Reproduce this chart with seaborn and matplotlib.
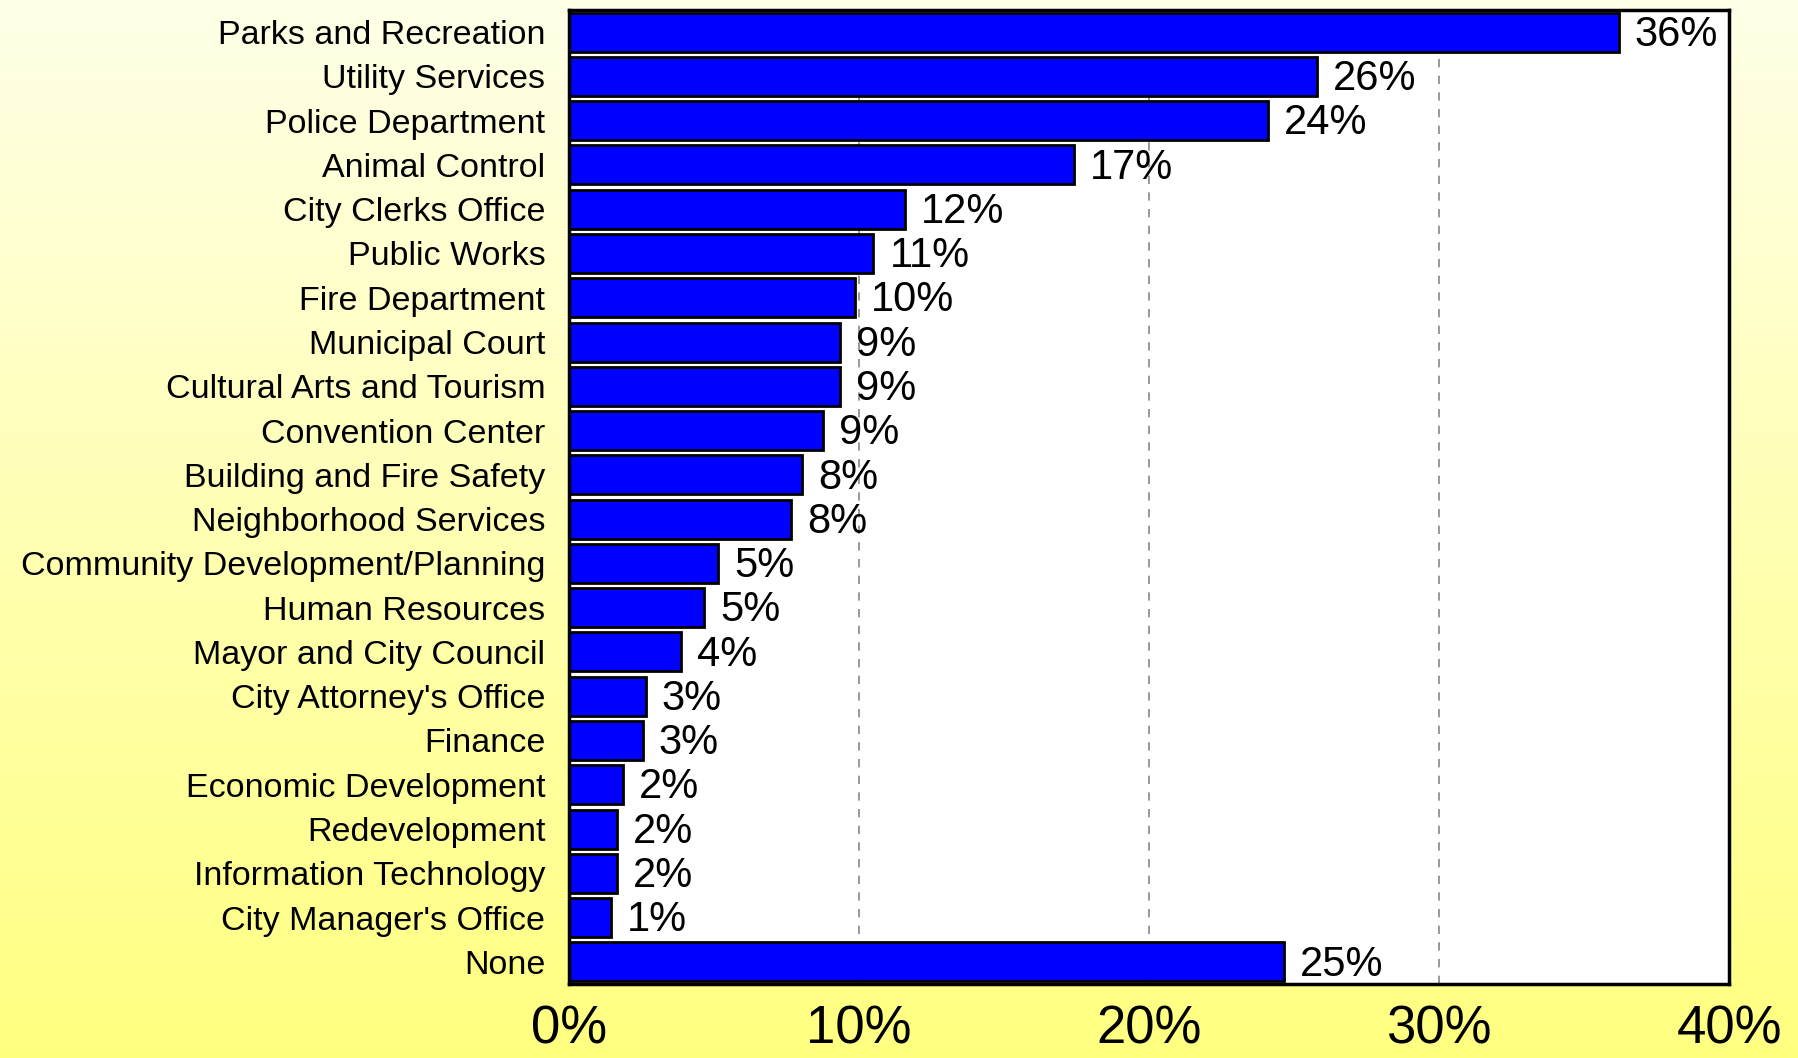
import numpy as np
import pandas as pd
import matplotlib
matplotlib.use("Agg")
import matplotlib.pyplot as plt
import seaborn as sns
from matplotlib.colors import LinearSegmentedColormap

departments = [
    "Parks and Recreation", "Utility Services", "Police Department", "Animal Control",
    "City Clerks Office", "Public Works", "Fire Department", "Municipal Court",
    "Cultural Arts and Tourism", "Convention Center", "Building and Fire Safety",
    "Neighborhood Services", "Community Development/Planning", "Human Resources",
    "Mayor and City Council", "City Attorney's Office", "Finance", "Economic Development",
    "Redevelopment", "Information Technology", "City Manager's Office", "None",
]
percent = [36.2, 25.8, 24.1, 17.4, 11.6, 10.5, 9.85, 9.35, 9.35, 8.75, 8.05,
           7.65, 5.15, 4.65, 3.85, 2.65, 2.55, 1.85, 1.65, 1.65, 1.45, 24.65]
value_labels = ["36%", "26%", "24%", "17%", "12%", "11%", "10%", "9%", "9%", "9%", "8%",
                "8%", "5%", "5%", "4%", "3%", "3%", "2%", "2%", "2%", "1%", "25%"]
x_ticks = [0, 10, 20, 30, 40]
x_tick_labels = ["0%", "10%", "20%", "30%", "40%"]

df = pd.DataFrame({"Department": departments, "Percent": percent})

sns.set_style("white")
plt.rcParams["font.family"] = ["Liberation Sans", "DejaVu Sans"]

fig = plt.figure(figsize=(17.99, 10.58), dpi=100)

# yellow gradient background
bg = fig.add_axes([0, 0, 1, 1], zorder=-10)
grad = np.linspace(0, 1, 256).reshape(-1, 1)
cmap = LinearSegmentedColormap.from_list("bg", ["#FFFFE8", "#FFFF80"])
bg.imshow(grad, aspect="auto", cmap=cmap, extent=[0, 1, 0, 1], origin="upper")
bg.axis("off")

ax = fig.add_axes([569 / 1799, 1 - 984 / 1058, (1729 - 569) / 1799, (984 - 10) / 1058])
ax.set_facecolor("white")
ax.set_axisbelow(True)
ax.grid(axis="x", color="#888888", linestyle=(0, (5, 5)), linewidth=1.2)

sns.barplot(data=df, x="Percent", y="Department", ax=ax, color="#0000FF",
            saturation=1, edgecolor="black", linewidth=2, width=0.88)

for i, (v, lab) in enumerate(zip(percent, value_labels)):
    ax.text(v + 0.55, i + 0.06, lab, va="center", ha="left", fontsize=30, color="black")

ax.set_xlim(0, 40)
ax.set_ylim(21.5, -0.5)
ax.set_xticks(x_ticks)
ax.set_xticklabels(x_tick_labels, fontsize=38, color="black")
ax.tick_params(axis="x", length=0, pad=15)
ax.tick_params(axis="y", length=0, pad=17, labelsize=24.5, labelcolor="black")
ax.set_xlabel("")
ax.set_ylabel("")
for s in ax.spines.values():
    s.set_visible(True)
    s.set_color("black")
    s.set_linewidth(2.5)

fig.savefig("out.png", dpi=100)
